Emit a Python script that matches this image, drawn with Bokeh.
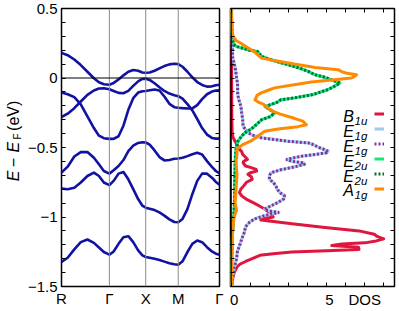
from bokeh.plotting import figure
from bokeh.models import Range1d, FixedTicker, LinearAxis, Label, Legend, LegendItem, Span
from bokeh.layouts import row
from bokeh.embed import file_html
from bokeh.resources import INLINE
from bokeh.core.properties import value
import math

FONT = "Liberation Sans"

# ---------------- band structure data ----------------
k_ticks = [0.0, 0.303, 0.533, 0.739, 1.0]
k_labels = ["R", "Γ", "X", "M", "Γ"]
k_lines = [0.303, 0.533, 0.739]

k = [0.000, 0.039, 0.081, 0.122, 0.164, 0.205, 0.237, 0.268, 0.303, 0.330, 0.361,
     0.392, 0.423, 0.454, 0.485, 0.512, 0.533, 0.558, 0.589, 0.620, 0.651, 0.683,
     0.714, 0.739, 0.766, 0.797, 0.828, 0.859, 0.890, 0.921, 0.952, 0.977, 1.000]

band_A = [0.181, 0.164, 0.133, 0.093, 0.045, -0.002, -0.031, -0.045, -0.048, -0.036, -0.010,
          0.019, 0.045, 0.057, 0.052, 0.040, 0.038, 0.040, 0.052, 0.069, 0.086, 0.098,
          0.102, 0.100, 0.081, 0.045, 0.005, -0.029, -0.050, -0.062, -0.060, -0.052, -0.048]
band_B = [-0.105, -0.117, -0.138, -0.190, -0.276, -0.360, -0.415, -0.433, -0.438, -0.438, -0.419,
          -0.343, -0.229, -0.145, -0.105, -0.095, -0.093, -0.088, -0.083, -0.090, -0.133, -0.186,
          -0.210, -0.214, -0.217, -0.219, -0.219, -0.195, -0.152, -0.117, -0.098, -0.090, -0.088]
band_C = [-0.281, -0.257, -0.217, -0.169, -0.121, -0.090, -0.076, -0.074, -0.081, -0.093, -0.107,
          -0.110, -0.093, -0.057, -0.024, -0.007, -0.005, -0.014, -0.038, -0.067, -0.093, -0.112,
          -0.124, -0.131, -0.148, -0.188, -0.233, -0.295, -0.360, -0.407, -0.431, -0.436, -0.436]
band_D = [-0.681, -0.638, -0.565, -0.533, -0.533, -0.574, -0.621, -0.669, -0.688, -0.664, -0.633,
          -0.590, -0.526, -0.486, -0.467, -0.462, -0.464, -0.479, -0.521, -0.569, -0.593, -0.590,
          -0.581, -0.579, -0.574, -0.562, -0.548, -0.538, -0.550, -0.598, -0.640, -0.669, -0.686]
band_E = [-0.795, -0.800, -0.790, -0.752, -0.705, -0.681, -0.705, -0.752, -0.771, -0.740, -0.688,
          -0.676, -0.729, -0.800, -0.871, -0.919, -0.933, -0.940, -0.950, -0.967, -0.990, -1.017,
          -1.036, -1.038, -1.014, -0.943, -0.836, -0.740, -0.688, -0.688, -0.717, -0.748, -0.767]
band_F = [-1.324, -1.293, -1.233, -1.181, -1.162, -1.186, -1.219, -1.252, -1.271, -1.248, -1.193,
          -1.145, -1.138, -1.181, -1.240, -1.276, -1.288, -1.293, -1.300, -1.310, -1.321, -1.333,
          -1.340, -1.343, -1.319, -1.252, -1.193, -1.169, -1.181, -1.217, -1.248, -1.264, -1.271]
bands = [band_A, band_B, band_C, band_D, band_E, band_F]

# ---------------- DOS data (E in eV, DOS) ----------------
b1u_E = [0.50, 0.00, -0.30, -0.40, -0.43, -0.467, -0.49, -0.514, -0.53, -0.55,
         -0.57, -0.586, -0.60, -0.61, -0.633, -0.645, -0.657, -0.67, -0.682, -0.693,
         -0.71, -0.729, -0.75, -0.776, -0.80, -0.824, -0.848, -0.871, -0.90, -0.919,
         -0.943, -0.979, -1.000, -1.012, -1.022, -1.05, -1.074, -1.10, -1.124, -1.14,
         -1.157, -1.172, -1.186, -1.195, -1.205, -1.217, -1.233, -1.243, -1.252, -1.265,
         -1.276, -1.30, -1.32, -1.34, -1.36, -1.40, -1.45, -1.50]
b1u_dos = [0.02, 0.02, 0.03, 0.05, 0.10, 0.25, 0.35, 0.43, 0.55, 0.60,
           0.75, 0.85, 0.65, 0.62, 0.75, 1.05, 1.30, 1.33, 1.00, 0.87,
           1.05, 1.10, 0.80, 0.65, 0.50, 0.43, 0.55, 0.78, 1.20, 1.45,
           1.75, 2.10, 2.20, 1.70, 1.55, 3.30, 4.80, 6.70, 7.50, 7.65,
           8.00, 7.60, 7.00, 5.80, 5.27, 6.67, 6.70, 5.00, 3.17, 2.20,
           1.50, 1.10, 0.75, 0.45, 0.30, 0.15, 0.07, 0.02]

e1g_E = [0.50, 0.30, 0.20, 0.143, 0.08, 0.00, -0.04, -0.12, -0.157, -0.20,
         -0.252, -0.30, -0.348, -0.37, -0.395, -0.41, -0.43, -0.443, -0.455, -0.467,
         -0.479, -0.50, -0.515, -0.526, -0.538, -0.55, -0.565, -0.586, -0.60, -0.61,
         -0.621, -0.64, -0.66, -0.681, -0.70, -0.729, -0.75, -0.78, -0.80, -0.83,
         -0.848, -0.87, -0.895, -0.919, -0.943, -0.955, -0.967, -0.99, -1.014, -1.038,
         -1.07, -1.11, -1.157, -1.18, -1.25, -1.30, -1.36, -1.42, -1.50]
e1g_dos = [0.00, 0.03, 0.06, 0.08, 0.20, 0.28, 0.33, 0.34, 0.40, 0.50,
           0.55, 0.60, 0.62, 0.75, 0.90, 1.10, 1.57, 2.29, 2.97, 4.04,
           4.30, 4.60, 4.90, 5.08, 5.00, 4.40, 3.60, 2.89, 3.20, 3.80,
           3.85, 3.30, 2.60, 2.10, 2.00, 2.00, 2.20, 2.35, 2.40, 2.60,
           2.80, 2.75, 2.45, 2.10, 1.75, 1.90, 2.50, 1.75, 1.22, 0.96,
           0.75, 0.69, 0.55, 0.50, 0.32, 0.28, 0.17, 0.08, 0.02]

e2u_E = [0.50, 0.40, 0.30, 0.26, 0.235, 0.226, 0.212, 0.200, 0.190, 0.170,
         0.155, 0.131, 0.110, 0.095, 0.070, 0.050, 0.024, 0.005, -0.015, -0.036,
         -0.045, -0.06, -0.083, -0.10, -0.119, -0.143, -0.157, -0.175, -0.19, -0.205,
         -0.225, -0.252, -0.28, -0.30, -0.324, -0.35, -0.371, -0.395, -0.42, -0.455,
         -0.49, -0.55, -0.633, -0.75, -0.85, -0.95, -1.05, -1.15, -1.30, -1.50]
e2u_dos = [0.00, 0.02, 0.05, 0.10, 0.18, 0.30, 0.65, 0.95, 1.39, 1.50,
           1.60, 2.10, 2.60, 3.00, 3.60, 4.00, 4.38, 4.90, 5.30, 5.70,
           5.60, 5.40, 5.08, 4.70, 4.30, 3.32, 2.60, 2.40, 2.10, 1.76,
           2.00, 2.29, 2.00, 1.60, 1.40, 1.20, 1.00, 0.70, 0.54, 0.35,
           0.27, 0.22, 0.20, 0.18, 0.18, 0.15, 0.10, 0.05, 0.02, 0.00]

a1g_E = [0.50, 0.40, 0.33, 0.30, 0.27, 0.25, 0.22, 0.19, 0.16, 0.143,
         0.13, 0.115, 0.10, 0.076, 0.06, 0.045, 0.036, 0.024, 0.010, 0.0,
         -0.012, -0.029, -0.048, -0.071, -0.09, -0.107, -0.125, -0.143, -0.157, -0.171,
         -0.19, -0.217, -0.24, -0.26, -0.29, -0.31, -0.336, -0.35, -0.367, -0.383,
         -0.419, -0.45, -0.48, -0.51, -0.55, -0.60, -0.70, -0.80, -0.90, -0.95,
         -1.00, -1.10, -1.30, -1.50]
a1g_dos = [0.00, 0.02, 0.05, 0.10, 0.25, 0.50, 0.85, 1.20, 1.45, 1.60,
           2.10, 2.70, 3.30, 4.40, 5.60, 5.80, 6.00, 6.57, 6.45, 6.30,
           5.40, 4.20, 3.30, 2.27, 1.90, 1.57, 1.35, 1.30, 1.24, 1.39,
           1.70, 1.92, 2.20, 2.57, 3.30, 3.75, 3.94, 3.50, 2.45, 1.75,
           1.39, 1.07, 0.60, 0.30, 0.30, 0.25, 0.30, 0.25, 0.20, 0.28,
           0.15, 0.07, 0.04, 0.02]

# ---------------- ticks / labels ----------------
e_major = [-1.5, -1.0, -0.5, 0.0, 0.5]
e_major_labels = ["−1.5", "−1", "−0.5", "0", "0.5"]
e_minor = [-1.5, -1.4, -1.3, -1.2, -1.1, -1.0, -0.9, -0.8, -0.7, -0.6, -0.5,
           -0.4, -0.3, -0.2, -0.1, 0.0, 0.1, 0.2, 0.3, 0.4, 0.5]
dos_minor = [0, 1, 2, 3, 4, 5, 6, 7, 8]
dos_label_pos = [0.15, 5.15, 7.0]
dos_labels = ["0", "5", "DOS"]

leg_main = ["B", "E", "E", "E", "E", "A"]
leg_sub = ["1u", "1g", "1g", "2u", "2u", "1g"]
leg_colors = ["#e0163e", "#9fcbec", "#85309c", "#10e878", "#00703c", "#ff8a00"]

ylabel_parts = ["E", "−", "E", "F", "(eV)"]
ylabel_styles = ["italic", "normal", "italic", "normal", "normal"]
ylabel_sizes = ["16px", "16px", "16px", "10px", "16px"]

BAND_COLOR = "#1212a2"
H = 310


def style_axis(ax, ticker, size="15px"):
    ax.ticker = ticker
    ax.axis_line_color = None
    ax.major_tick_in = 4
    ax.major_tick_out = 0
    ax.minor_tick_in = 4
    ax.minor_tick_out = 0
    ax.major_tick_line_color = "black"
    ax.minor_tick_line_color = "black"
    ax.major_label_text_font = FONT
    ax.major_label_text_font_size = size
    ax.major_label_text_color = "black"
    ax.major_label_standoff = 0


# ---------------- y-axis title strip ----------------
p0 = figure(width=24, height=H, x_range=Range1d(0, 24), y_range=Range1d(0, H),
            output_backend="svg", toolbar_location=None, x_axis_type=None, y_axis_type=None,
            min_border=0)
p0.outline_line_color = None
p0.grid.visible = False
# screen placement of the rotated title pieces (x = glyph centre line, y = start, from bottom)
yl_x = [12.5, 12.8, 12.5, 17.3, 12.5]
yl_y = [H - 192.5, H - 177.0, H - 160.5, H - 146.0, H - 136.5]
for txt, st, sz, xx, yy in zip(ylabel_parts, ylabel_styles, ylabel_sizes, yl_x, yl_y):
    p0.text(x=[xx], y=[yy], text=[txt], angle=math.pi / 2, text_align="left",
            text_baseline="middle", text_font=value(FONT), text_font_style=st,
            text_font_size=sz, text_color="black")

# ---------------- band panel ----------------
p1 = figure(width=200, height=H, x_range=Range1d(0, 1), y_range=Range1d(-1.5, 0.5),
            output_backend="svg", toolbar_location=None,
            min_border_left=34, min_border_right=5, min_border_top=8, min_border_bottom=22)
p1.grid.visible = False
p1.outline_line_color = "black"
p1.outline_line_width = 1.5
p1.background_fill_color = "white"
p1.border_fill_color = "white"

style_axis(p1.xaxis[0], FixedTicker(ticks=k_ticks, minor_ticks=[]))
p1.xaxis[0].major_tick_in = 0
p1.xaxis[0].major_label_standoff = 3
p1.xaxis[0].major_label_overrides = {t: l for t, l in zip(k_ticks, k_labels)}

style_axis(p1.yaxis[0], FixedTicker(ticks=e_major, minor_ticks=e_minor))
p1.yaxis[0].major_label_overrides = {t: l for t, l in zip(e_major, e_major_labels)}
p1.yaxis[0].major_label_standoff = 4

rax1 = LinearAxis()
style_axis(rax1, FixedTicker(ticks=[], minor_ticks=e_minor))
p1.add_layout(rax1, "right")

for kx in k_lines:
    p1.add_layout(Span(location=kx, dimension="height", line_color="#8a8a8a", line_width=1))
p1.add_layout(Span(location=0, dimension="width", line_color="black", line_width=1))

for b in bands:
    p1.line(k, b, line_color=BAND_COLOR, line_width=2.6, line_join="round")

# ---------------- DOS panel ----------------
p2 = figure(width=175, height=H, x_range=Range1d(-0.04, 8.56), y_range=Range1d(-1.5, 0.5),
            output_backend="svg", toolbar_location=None,
            min_border_left=6, min_border_right=5, min_border_top=8, min_border_bottom=22)
p2.grid.visible = False
p2.outline_line_color = "black"
p2.outline_line_width = 1.5
p2.background_fill_color = "white"
p2.border_fill_color = "white"

style_axis(p2.xaxis[0], FixedTicker(ticks=dos_label_pos, minor_ticks=dos_minor))
p2.xaxis[0].major_tick_in = 0
p2.xaxis[0].major_label_standoff = 4
p2.xaxis[0].major_label_overrides = {t: l for t, l in zip(dos_label_pos, dos_labels)}

style_axis(p2.yaxis[0], FixedTicker(ticks=[], minor_ticks=e_minor))
rax2 = LinearAxis()
style_axis(rax2, FixedTicker(ticks=[], minor_ticks=e_minor))
p2.add_layout(rax2, "right")
tax2 = LinearAxis()
style_axis(tax2, FixedTicker(ticks=[], minor_ticks=dos_minor))
p2.add_layout(tax2, "above")

p2.add_layout(Span(location=0, dimension="height", line_color="black", line_width=1))

W = 3
r_b1u = p2.line(b1u_dos, b1u_E, line_color=leg_colors[0], line_width=W, line_join="round")
r_e1g_s = p2.line(e1g_dos, e1g_E, line_color=leg_colors[1], line_width=W, line_join="round")
r_e1g_d = p2.line(e1g_dos, e1g_E, line_color=leg_colors[2], line_width=W, line_dash="2 2")
r_e2u_s = p2.line(e2u_dos, e2u_E, line_color=leg_colors[3], line_width=W, line_join="round")
r_e2u_d = p2.line(e2u_dos, e2u_E, line_color=leg_colors[4], line_width=W, line_dash="2 2")
r_a1g = p2.line(a1g_dos, a1g_E, line_color=leg_colors[5], line_width=W, line_join="round")

renderers = [r_b1u, r_e1g_s, r_e1g_d, r_e2u_s, r_e2u_d, r_a1g]
legend = Legend(items=[LegendItem(label=value(""), renderers=[r]) for r in renderers],
                location=(143.5, 89.75), glyph_width=10, glyph_height=15,
                label_width=0, label_height=15, label_standoff=0, spacing=0,
                padding=0, margin=0, border_line_color=None, background_fill_alpha=0,
                label_text_font_size="1px")
p2.add_layout(legend)

for i, (m, s) in enumerate(zip(leg_main, leg_sub)):
    yb = 169.7 - 14.8 * i
    p2.add_layout(Label(x=123.5, y=yb, x_units="screen", y_units="screen", text=m,
                        text_align="right", text_baseline="alphabetic",
                        text_font=FONT, text_font_style="italic",
                        text_font_size="16px", text_color="black"))
    p2.add_layout(Label(x=124.0, y=yb - 4.5, x_units="screen", y_units="screen", text=s,
                        text_align="left", text_baseline="alphabetic",
                        text_font=FONT, text_font_style="italic",
                        text_font_size="11.5px", text_color="black"))

layout = row(p0, p1, p2)
open("out.html", "w").write(file_html(layout, INLINE))
